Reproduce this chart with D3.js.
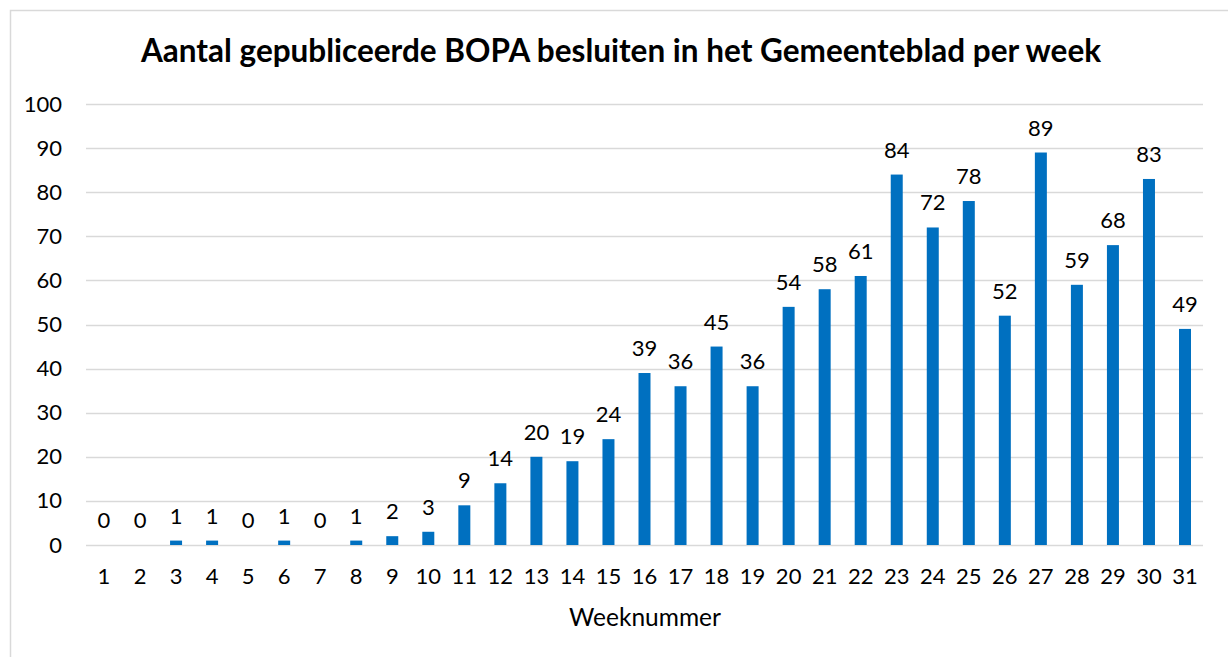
<!DOCTYPE html>
<html>
<head>
<meta charset="utf-8">
<script src="https://cdn.jsdelivr.net/npm/d3@7"></script>
<style>
  html, body { margin: 0; padding: 0; background: #fff; }
  svg { display: block; }
</style>
</head>
<body>
<div id="chart"></div>
<script>
const weeks = d3.range(1, 32).map(String);
const counts = [0, 0, 1, 1, 0, 1, 0, 1, 2, 3, 9, 14, 20, 19, 24, 39, 36, 45, 36, 54, 58, 61, 84, 72, 78, 52, 89, 59, 68, 83, 49];
const yTicks = [0, 10, 20, 30, 40, 50, 60, 70, 80, 90, 100];
const title = 'Aantal gepubliceerde BOPA besluiten in het Gemeenteblad per week';
const xTitle = 'Weeknummer';

const width = 1228;
const height = 657;
const font = 'Lato, "Noto Sans", sans-serif';
const barColor = '#0070c0';
const gridColor = '#d9d9d9';

const margin = { top: 104, right: 25, bottom: 112, left: 86 };

const svg = d3.select('#chart').append('svg')
  .attr('width', width)
  .attr('height', height)
  .attr('font-family', font);

// chart border (runs off the right/bottom edge like the screenshot)
svg.append('rect')
  .attr('x', 10.5).attr('y', 10.5)
  .attr('width', width + 20).attr('height', height + 20)
  .attr('fill', 'none')
  .attr('stroke', gridColor)
  .attr('stroke-width', 1.5);

const x = d3.scaleBand()
  .domain(weeks)
  .range([margin.left, width - margin.right])
  .paddingInner(0.667)
  .paddingOuter(0.333);

const y = d3.scaleLinear()
  .domain([0, 100])
  .range([height - margin.bottom, margin.top]);

// gridlines
svg.append('g')
  .attr('stroke', gridColor)
  .attr('stroke-width', 1.5)
  .selectAll('line')
  .data(yTicks)
  .join('line')
  .attr('x1', margin.left)
  .attr('x2', width - margin.right)
  .attr('y1', d => Math.round(y(d)) + 0.5)
  .attr('y2', d => Math.round(y(d)) + 0.5);

// y axis labels
const yAxis = svg.append('g')
  .attr('transform', `translate(${margin.left - 24},0)`)
  .call(d3.axisLeft(y).tickValues(yTicks).tickSize(0).tickPadding(0));
yAxis.select('.domain').remove();
yAxis.selectAll('text')
  .attr('font-family', font)
  .attr('font-size', 22)
  .attr('fill', '#000');

// x axis labels
const xAxis = svg.append('g')
  .attr('transform', `translate(0,${height - margin.bottom})`)
  .call(d3.axisBottom(x).tickSize(0).tickPadding(23));
xAxis.select('.domain').remove();
xAxis.selectAll('text')
  .attr('font-family', font)
  .attr('font-size', 22)
  .attr('fill', '#000');

// bars
svg.append('g')
  .attr('fill', barColor)
  .selectAll('rect')
  .data(counts)
  .join('rect')
  .attr('x', (d, i) => x(weeks[i]))
  .attr('width', x.bandwidth())
  .attr('y', d => y(d))
  .attr('height', d => y(0) - y(d));

// value labels
svg.append('g')
  .attr('font-size', 22)
  .attr('text-anchor', 'middle')
  .attr('fill', '#000')
  .selectAll('text')
  .data(counts)
  .join('text')
  .attr('x', (d, i) => x(weeks[i]) + x.bandwidth() / 2)
  .attr('y', d => y(d) - 17)
  .text(d => d);

// title
svg.append('text')
  .attr('x', 621)
  .attr('y', 62)
  .attr('text-anchor', 'middle')
  .attr('font-size', 31.5)
  .attr('font-weight', 'bold')
  .attr('fill', '#000')
  .text(title);

// x axis title
svg.append('text')
  .attr('x', 645)
  .attr('y', 626)
  .attr('text-anchor', 'middle')
  .attr('font-size', 24.5)
  .attr('fill', '#000')
  .text(xTitle);
</script>
</body>
</html>
